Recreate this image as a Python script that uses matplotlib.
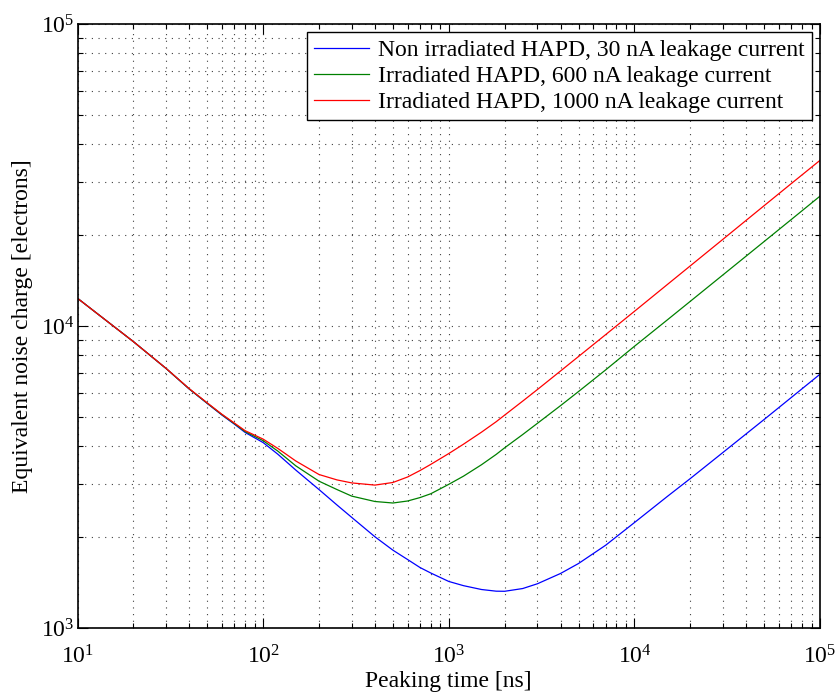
import matplotlib
matplotlib.use("Agg")
import matplotlib.pyplot as plt
import matplotlib.ticker as ticker

plt.rcParams["font.family"] = ["Liberation Serif", "DejaVu Serif"]
plt.rcParams["mathtext.fontset"] = "custom"
plt.rcParams["mathtext.rm"] = "Liberation Serif"
plt.rcParams["mathtext.it"] = "Liberation Serif:italic"
plt.rcParams["mathtext.bf"] = "Liberation Serif:bold"

# peaking time [ns] and ENC [electrons]
peak_ns = [10, 20, 30, 40, 50, 60, 70, 80, 100, 120, 150, 200, 250, 300,
           400, 500, 600, 700, 800, 1000, 1200, 1500, 1800, 2000, 2500,
           3000, 4000, 5000, 7000, 10000, 15000, 20000, 30000, 50000,
           70000, 100000]

enc_30nA = [12370, 8890, 7245, 6195, 5550, 5080, 4740, 4450, 4120, 3770,
            3340, 2880, 2560, 2330, 2010, 1815, 1690, 1590, 1525, 1430,
            1385, 1345, 1328, 1327, 1355, 1405, 1520, 1640, 1885, 2240,
            2730, 3133, 3823, 4915, 5810, 6940]
enc_600nA = [12370, 8890, 7245, 6200, 5560, 5095, 4760, 4480, 4180, 3860,
             3450, 3070, 2880, 2740, 2630, 2600, 2640, 2710, 2790, 2998,
             3190, 3480, 3765, 3960, 4380, 4770, 5460, 6080, 7170, 8580,
             10480, 12090, 14790, 19070, 22550, 26950]
enc_1000nA = [12370, 8890, 7250, 6210, 5575, 5110, 4780, 4510, 4230, 3940,
              3580, 3230, 3100, 3030, 2980, 3040, 3170, 3330, 3490, 3790,
              4070, 4460, 4830, 5080, 5650, 6170, 7110, 7940, 9380, 11200,
              13720, 15840, 19400, 25060, 29650, 35400]

labels = ["Non irradiated HAPD, 30 nA leakage current",
          "Irradiated HAPD, 600 nA leakage current",
          "Irradiated HAPD, 1000 nA leakage current"]
colors = ["#0000ff", "#008000", "#ff0000"]

fig = plt.figure(figsize=(8.37, 6.93), dpi=100)
ax = fig.add_axes([0.0926, 0.0932, 0.8872, 0.8722])

for vals, lab, col in zip([enc_30nA, enc_600nA, enc_1000nA], labels, colors):
    ax.plot(peak_ns, vals, color=col, linewidth=0.9, label=lab)

ax.set_xscale("log")
ax.set_yscale("log")
ax.set_xlim(10, 1e5)
ax.set_ylim(1e3, 1e5)

ax.xaxis.set_major_locator(ticker.LogLocator(base=10, numticks=10))
ax.yaxis.set_major_locator(ticker.LogLocator(base=10, numticks=10))
ax.xaxis.set_minor_locator(ticker.LogLocator(base=10, subs=range(2, 10), numticks=20))
ax.yaxis.set_minor_locator(ticker.LogLocator(base=10, subs=range(2, 10), numticks=20))
ax.xaxis.set_minor_formatter(ticker.NullFormatter())
ax.yaxis.set_minor_formatter(ticker.NullFormatter())

# sparse MATLAB-like dotted grid
ax.grid(True, which="both", linestyle=(0, (1, 5)), color="0.25", linewidth=0.8)
ax.set_axisbelow(True)

ax.tick_params(which="both", direction="in", top=True, right=True,
               labelsize=17, width=0.8)
ax.tick_params(which="major", length=7)
ax.tick_params(which="minor", length=3.5)
ax.tick_params(axis="x", which="major", pad=12)
ax.tick_params(axis="y", which="major", pad=2)
for sp in ax.spines.values():
    sp.set_linewidth(1.2)

ax.set_xlabel("Peaking time [ns]", fontsize=17, labelpad=2)
ax.set_ylabel("Equivalent noise charge [electrons]", fontsize=17, labelpad=6)

leg = ax.legend(loc="upper right", fontsize=17, fancybox=False,
                framealpha=1, edgecolor="black", borderaxespad=0.35,
                handlelength=2.3, handletextpad=0.4, labelspacing=0.2,
                borderpad=0.3)
leg.get_frame().set_linewidth(1.0)

fig.savefig("out.png", dpi=100)
